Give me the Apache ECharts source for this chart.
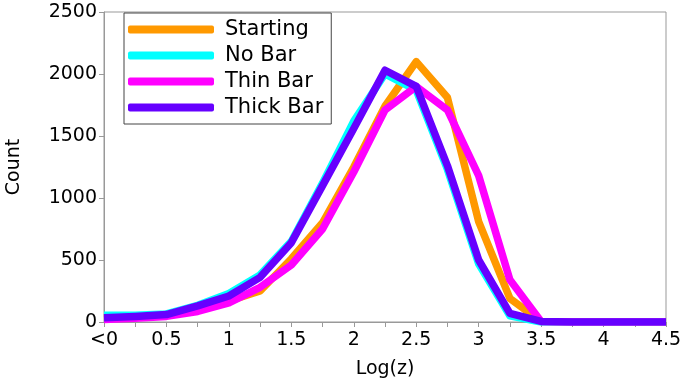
<!DOCTYPE html>
<html>
<head>
<meta charset="utf-8">
<script src="https://cdn.jsdelivr.net/npm/echarts@6/dist/echarts.min.js"></script>
<style>
  html, body { margin: 0; padding: 0; background: #fff; }
  #chart { width: 692px; height: 382px; }
</style>
</head>
<body>
<div id="chart"></div>
<script>
// log(z) bins, step 0.25
var bins = ['<0', '0.25', '0.5', '0.75', '1', '1.25', '1.5', '1.75', '2', '2.25', '2.5',
  '2.75', '3', '3.25', '3.5', '3.75', '4', '4.25', '4.5'];

var starting = [30, 40, 55, 100, 170, 250, 510, 800, 1250, 1740, 2100, 1810, 810, 190, 5, 0, 0, 0, 0];
var noBar = [55, 55, 65, 135, 230, 380, 650, 1120, 1620, 2000, 1870, 1230, 470, 50, 0, 0, 0, 0, 0];
var thinBar = [20, 30, 45, 85, 155, 280, 460, 750, 1210, 1710, 1900, 1710, 1180, 340, 5, 0, 0, 0, 0];
var thickBar = [35, 45, 60, 130, 210, 360, 640, 1100, 1560, 2030, 1900, 1260, 500, 70, 5, 0, 0, 0, 0];

var names = ['Starting', 'No Bar', 'Thin Bar', 'Thick Bar'];
var colors = ['#ff9900', '#00ffff', '#ff00ff', '#6600ff'];

var chart = echarts.init(document.getElementById('chart'));
var font = 'DejaVu Sans';

function line(name, data, color) {
  return {
    name: name,
    type: 'line',
    data: data,
    showSymbol: false,
    symbol: 'none',
    color: color,
    lineStyle: { width: 7.5, color: color, join: 'round' },
    animation: false
  };
}

chart.setOption({
  backgroundColor: '#fff',
  textStyle: { fontFamily: font },
  grid: {
    left: 104, right: 26, top: 12, bottom: 60,
    outerBoundsMode: 'none',
    containLabel: false,
    show: true, borderColor: '#999', borderWidth: 1
  },
  legend: {
    orient: 'vertical',
    left: 124, top: 13,
    padding: [6, 8, 6, 4],
    itemGap: 5,
    itemWidth: 86,
    itemHeight: 8,
    icon: 'roundRect',
    borderColor: '#444',
    borderWidth: 1,
    backgroundColor: '#fff',
    textStyle: { fontFamily: font, fontSize: 21, color: '#000', padding: [0, 0, 0, 6] },
    data: names
  },
  xAxis: {
    type: 'category',
    data: bins,
    boundaryGap: false,
    name: 'Log(z)',
    nameLocation: 'middle',
    nameGap: 38,
    nameTextStyle: { fontFamily: font, fontSize: 19, color: '#000' },
    axisLine: { lineStyle: { color: '#999' } },
    axisTick: { interval: 0, length: 5, lineStyle: { color: '#999' } },
    axisLabel: { interval: 1, fontFamily: font, fontSize: 19, color: '#000', margin: 9 },
    splitLine: { show: false }
  },
  yAxis: {
    type: 'value',
    min: 0, max: 2500, interval: 500,
    name: 'Count',
    nameLocation: 'middle',
    nameGap: 80,
    nameTextStyle: { fontFamily: font, fontSize: 19, color: '#000' },
    axisLine: { show: true, lineStyle: { color: '#999' } },
    axisTick: { show: true, length: 5, lineStyle: { color: '#999' } },
    axisLabel: {
      fontFamily: font, fontSize: 19, color: '#000', margin: 7,
      formatter: function (v) { return String(v); }
    },
    splitLine: { show: false }
  },
  series: [
    line(names[0], starting, colors[0]),
    line(names[1], noBar, colors[1]),
    line(names[2], thinBar, colors[2]),
    line(names[3], thickBar, colors[3])
  ]
});
</script>
</body>
</html>
